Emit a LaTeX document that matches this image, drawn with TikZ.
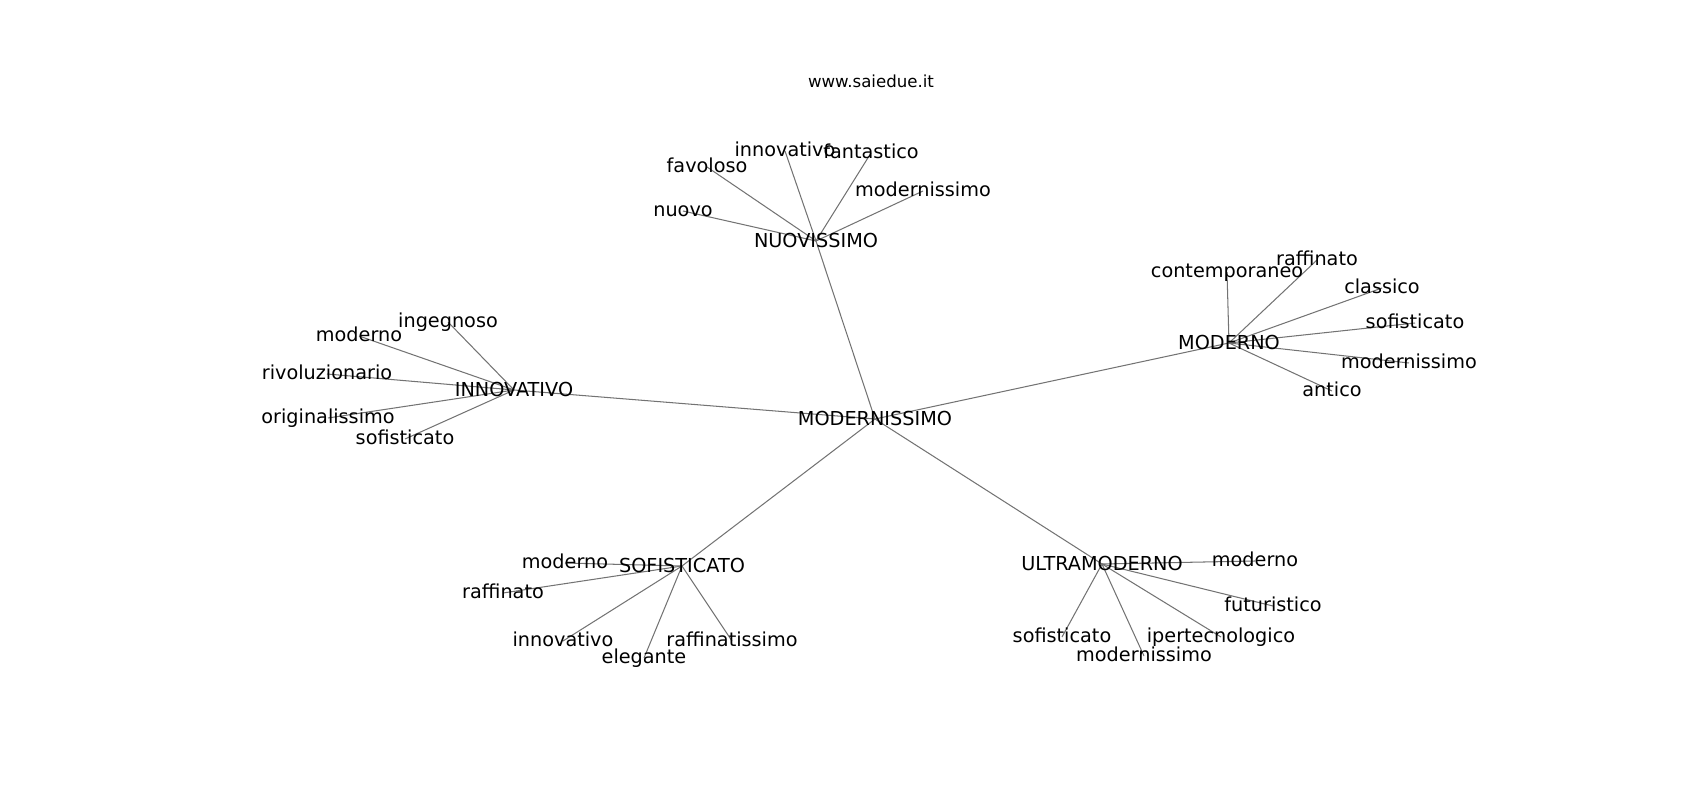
\documentclass[tikz,border=0pt]{standalone}
\usepackage{fontspec}
\setmainfont{DejaVu Sans}
\usepackage{tikz}
\pgfdeclarelayer{edges}
\pgfsetlayers{edges,main}

\begin{document}
\begin{tikzpicture}[x=0.01in, y=-0.01in,
  word/.style={inner sep=0pt, text height=0.76em, text depth=0em, font=\fontsize{13.9}{16}\selectfont},
  hubword/.style={word, text height=1.0em},
  link/.style={gray!90!black, line width=0.75pt}]

\useasboundingbox (0,0) rectangle (1700,800);

\node[anchor=base, inner sep=0pt, font=\fontsize{12}{14}\selectfont] (title) at (871,88) {www.saiedue.it};


% hubs
\node[hubword] (modernissimo) at (875,419) {MODERNISSIMO};

\node[hubword] (nuovissimo) at (816,241) {NUOVISSIMO};
\node[hubword] (moderno) at (1229,343) {MODERNO};
\node[hubword] (innovativo) at (514,390) {INNOVATIVO};
\node[hubword] (sofisticato) at (682,566) {SOFISTICATO};
\node[hubword] (ultramoderno) at (1102,564) {ULTRAMODERNO};

\begin{pgfonlayer}{edges}
\foreach \h in {nuovissimo,moderno,innovativo,sofisticato,ultramoderno}
\draw[link] (modernissimo.center) -- (\h.center);
\end{pgfonlayer}


% leaves
\foreach \hub/\n/\x/\y/\w in {
  nuovissimo/nuA/683/211/nuovo,
  nuovissimo/nuB/707/167/favoloso,
  nuovissimo/nuC/785/151/innovativo,
  nuovissimo/nuD/871/153/fantastico,
  nuovissimo/nuE/923/191/modernissimo,
  moderno/moA/1227/272/contemporaneo,
  moderno/moB/1317/260/raffinato,
  moderno/moC/1382/288/classico,
  moderno/moD/1415/323/sofisticato,
  moderno/moE/1409/363/modernissimo,
  moderno/moF/1332/391/antico,
  innovativo/inA/448/322/ingegnoso,
  innovativo/inB/359/336/moderno,
  innovativo/inC/327/374/rivoluzionario,
  innovativo/inD/328/418/originalissimo,
  innovativo/inE/405/439/sofisticato,
  sofisticato/soA/565/563/moderno,
  sofisticato/soB/503/593/raffinato,
  sofisticato/soC/563/641/innovativo,
  sofisticato/soD/644/658/elegante,
  sofisticato/soE/732/641/raffinatissimo,
  ultramoderno/ulA/1255/561/moderno,
  ultramoderno/ulB/1273/606/futuristico,
  ultramoderno/ulC/1062/637/sofisticato,
  ultramoderno/ulD/1221/637/ipertecnologico,
  ultramoderno/ulE/1144/656/modernissimo}
{
\node[word] (\n) at (\x,\y) {\w};
\begin{pgfonlayer}{edges}
\draw[link] (\hub.center) -- (\n.center);
\end{pgfonlayer}
}

\end{tikzpicture}
\end{document}
